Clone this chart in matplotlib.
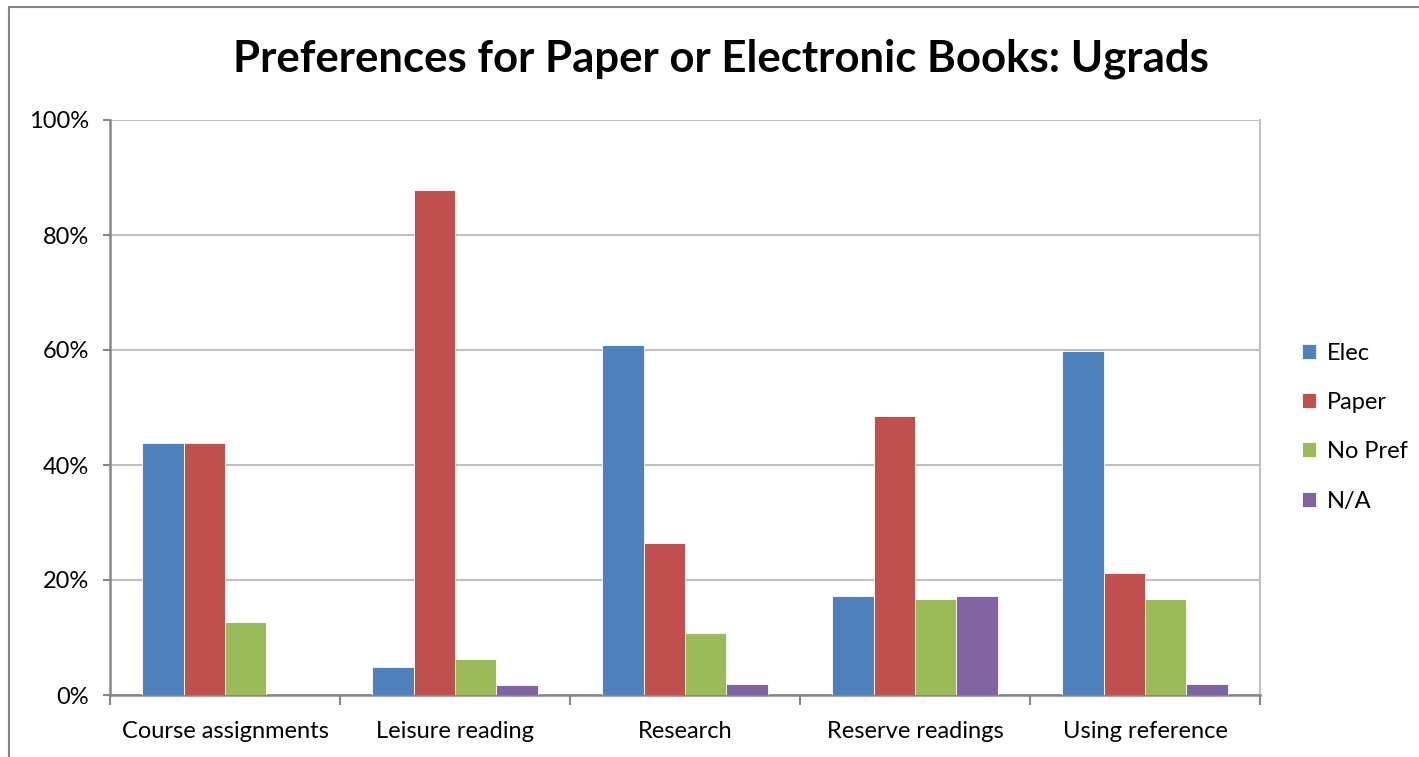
import matplotlib.pyplot as plt
import numpy as np
from matplotlib.patches import Rectangle
from matplotlib.ticker import FuncFormatter, MultipleLocator

# survey shares (percent) per usage category
categories = ['Course assignments', 'Leisure reading', 'Research',
              'Reserve readings', 'Using reference']
elec = [43.8, 4.8, 60.9, 17.2, 59.9]
paper = [43.8, 87.9, 26.4, 48.6, 21.2]
no_pref = [12.7, 6.3, 10.7, 16.7, 16.7]
n_a = [0.0, 1.7, 1.9, 17.2, 1.9]

series = [('Elec', elec, '#4f81bd'),
          ('Paper', paper, '#c0504d'),
          ('No Pref', no_pref, '#9bbb59'),
          ('N/A', n_a, '#8064a2')]

plt.rcParams['font.family'] = ['Lato', 'DejaVu Sans']

fig = plt.figure(figsize=(14.19, 7.57), dpi=100)
ax = fig.add_axes([110 / 1419, 62 / 757, 1150 / 1419, 575 / 757])

x = np.arange(len(categories))
w = 0.18
for i, (name, vals, col) in enumerate(series):
    ax.bar(x + (i - 1.5) * w, vals, w, color=col, label=name,
           edgecolor='white', linewidth=0.6, zorder=3)

ax.set_xlim(-0.5, len(categories) - 0.5)
ax.set_ylim(0, 100)
ax.yaxis.set_major_locator(MultipleLocator(20))
ax.yaxis.set_major_formatter(FuncFormatter(lambda v, p: '%d%%' % v))
ax.grid(axis='y', color='#bfbfbf', linewidth=1.5, zorder=0)

# category labels centred, tick marks on the boundaries
ax.set_xticks(x)
ax.set_xticklabels(categories)
ax.tick_params(axis='x', length=0, pad=19, labelsize=17)
ax.set_xticks(np.arange(-0.5, len(categories)), minor=True)
ax.tick_params(axis='x', which='minor', length=7, color='#868686', width=1.5)
ax.tick_params(axis='y', length=5, color='#868686', width=1.5, pad=10,
               labelsize=17)

for s in ['left', 'bottom']:
    ax.spines[s].set_color('#868686')
    ax.spines[s].set_linewidth(1.8)
ax.spines['top'].set_visible(False)
ax.spines['right'].set_color('#bfbfbf')
ax.spines['right'].set_linewidth(1.5)

leg = ax.legend(loc='center left', bbox_to_anchor=(1.018, 0.466), frameon=False,
                fontsize=17, handlelength=0.6, handleheight=0.6,
                handletextpad=0.45, labelspacing=1.2)

fig.text(0.508, 0.922, 'Preferences for Paper or Electronic Books: Ugrads',
         ha='center', va='center', fontsize=31.5, fontweight='bold')

# chart frame, partly outside the canvas
fig.patches.append(Rectangle((9 / 1419, -0.1), 1.2, 1.1 - 7 / 757,
                             transform=fig.transFigure, fill=False,
                             edgecolor='#868686', linewidth=1.5))

fig.savefig('out.png', dpi=100)
